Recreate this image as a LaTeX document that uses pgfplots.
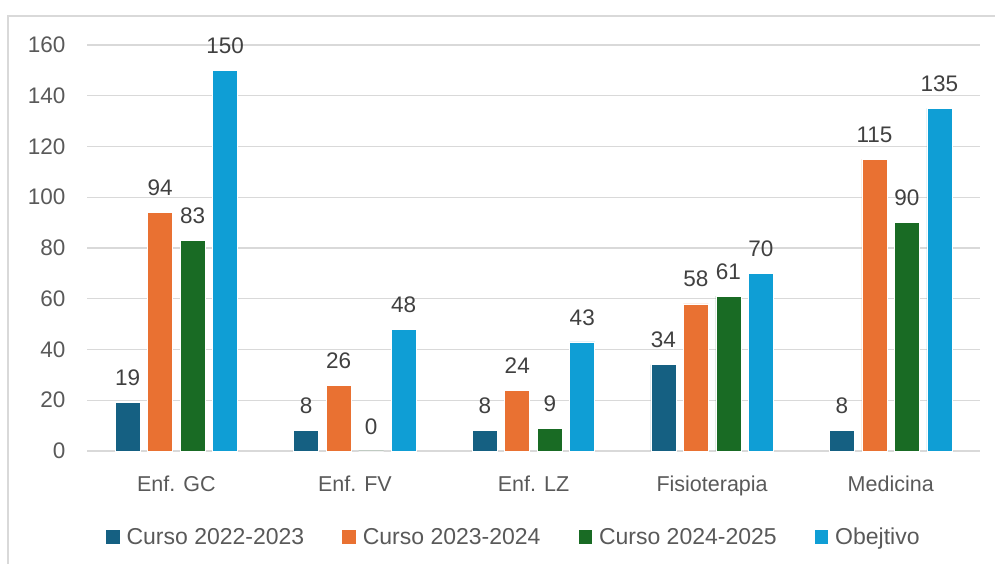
\documentclass[border=0pt]{standalone}
\usepackage{fontspec}
\setmainfont{Liberation Sans}
\usepackage{pgfplots}
\pgfplotsset{compat=1.18}
\definecolor{c1}{HTML}{156082}
\definecolor{c2}{HTML}{E97132}
\definecolor{c3}{HTML}{196B24}
\definecolor{c4}{HTML}{0F9ED5}
\definecolor{txt}{HTML}{595959}
\definecolor{lbl}{HTML}{404040}
\definecolor{gridc}{HTML}{D9D9D9}
\begin{document}
\begin{tikzpicture}[x=1bp,y=1bp]
\useasboundingbox (0,0) rectangle (995,564);
\draw[gridc, line width=1.2bp] (8,0) -- (8,548) -- (1000,548);
\begin{axis}[
  at={(87bp,113bp)}, anchor=south west,
  scale only axis, width=893bp, height=406bp,
  ybar=7.5bp, bar width=25bp,
  xmin=-0.5, xmax=4.5, ymin=0, ymax=160,
  ytick={0,20,...,160},
  xtick=data,
  xticklabels={Enf. GC, Enf. FV, Enf. LZ, Fisioterapia, Medicina},
  axis line style={draw=none},
  major tick length=0pt,
  ymajorgrids, grid style={gridc, line width=1.2bp},
  font=\fontsize{21bp}{25bp}\selectfont,
  tick label style={txt},
  /pgf/number format/assume math mode=true,
  yticklabel style={xshift=-18bp, font=\fontsize{22.5bp}{26bp}\selectfont},
  xticklabel style={yshift=-21bp, font=\fontsize{21.5bp}{26bp}\selectfont},
  nodes near coords,
  nodes near coords style={lbl, font=\fontsize{22.5bp}{26bp}\selectfont, anchor=south, yshift=13bp},
  every axis plot/.append style={draw=white, line width=0.6bp},
  legend columns=4,
  legend style={draw=none, fill=none, at={(0.478,-0.184)}, anchor=north,
    text=txt, font=\fontsize{23bp}{27bp}\selectfont,
    /tikz/every even column/.append style={column sep=36bp},
    /tikz/every odd column/.append style={column sep=5bp},
    inner sep=0pt},
  legend image code/.code={\fill[#1,draw=none] (0bp,-7bp) rectangle (13.5bp,6.5bp);},
  clip=false,
]
\addplot[fill=c1] coordinates {(0,19) (1,8) (2,8) (3,34) (4,8)};
\addplot[fill=c2] coordinates {(0,94) (1,26) (2,24) (3,58) (4,115)};
\addplot[fill=c3] coordinates {(0,83) (1,0) (2,9) (3,61) (4,90)};
\addplot[fill=c4] coordinates {(0,150) (1,48) (2,43) (3,70) (4,135)};
\legend{Curso 2022-2023, Curso 2023-2024, Curso 2024-2025, Obejtivo}
\end{axis}
\end{tikzpicture}
\end{document}
